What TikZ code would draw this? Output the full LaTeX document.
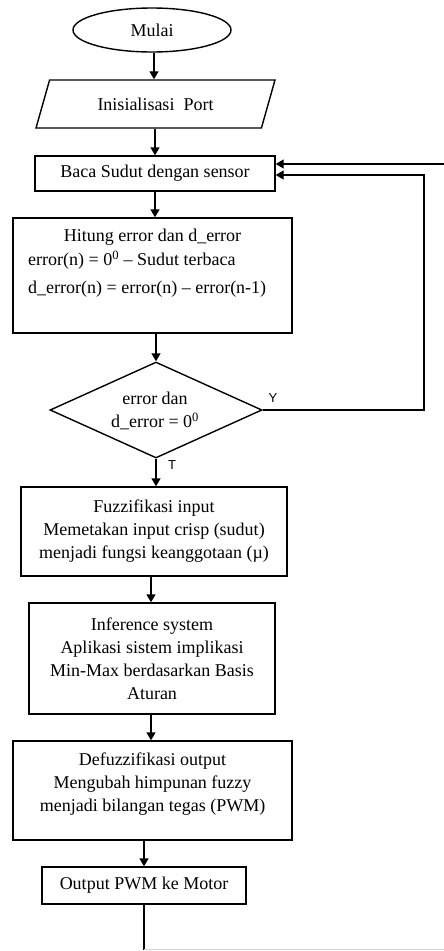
\documentclass[tikz,border=0pt]{standalone}
\usepackage{fontspec}
\setmainfont{Liberation Serif}
\newfontfamily\lsans{Liberation Sans}
\usetikzlibrary{shapes.geometric,arrows.meta}
\begin{document}
\begin{tikzpicture}[x=1pt,y=-1pt,
  every node/.style={font=\fontsize{18}{23}\selectfont},
  box/.style={draw, line width=1.4pt, rectangle, inner sep=0pt, align=center},
  flow/.style={line width=1.4pt, -{Triangle[length=8pt,width=9pt]}},
  plain/.style={line width=1.4pt},
  txt/.style={inner sep=0pt},
  lab/.style={font=\lsans\fontsize{13}{15}\selectfont, inner sep=0pt}]
\useasboundingbox (0,0) rectangle (444,951);
\node[ellipse, draw, line width=1.4pt, minimum width=158pt, minimum height=44pt, inner sep=0pt] (mulai) at (152,30) {Mulai};
\node[trapezium, trapezium left angle=43, trapezium right angle=137, trapezium stretches body, draw, line width=1.4pt, minimum width=239pt, minimum height=48pt, inner sep=0pt] (init) at (155.5,104) {Inisialisasi\ \ Port};
\node[box, minimum width=240pt, minimum height=35pt] (baca) at (155,173.5) {Baca Sudut dengan sensor};
\node[box, minimum width=279pt, minimum height=115pt] (hitung) at (152.5,275.5) {};
\node[txt] (h1) at (152.5,237) {Hitung error dan d\_error};
\node[txt, anchor=west] (h2) at (28,260) {error(n) = 0\textsuperscript{0} -- Sudut terbaca};
\node[txt, anchor=west] (h3) at (28,289) {d\_error(n) = error(n) -- error(n-1)};
\node[diamond, draw, line width=1.4pt, minimum width=212pt, minimum height=96pt, inner sep=0pt] (dia) at (156,410) {};
\node[txt, align=center] (dtext) at (155,411) {error dan\\d\_error = 0\textsuperscript{0}};
\node[lab] (ylab) at (273,398) {Y};
\node[lab] (tlab) at (172,465) {T};
\node[box, minimum width=266pt, minimum height=89pt] (fuzz) at (154,531.5) {Fuzzifikasi input\\Memetakan input crisp (sudut)\\menjadi fungsi keanggotaan (µ)};
\node[box, minimum width=246pt, minimum height=111pt] (inf) at (152,658.5) {Inference system\\Aplikasi sistem implikasi\\Min-Max berdasarkan Basis\\Aturan};
\node[box, minimum width=279pt, minimum height=99pt] (def) at (152.5,790.5) {};
\node[txt, align=center] (dtxt) at (152.5,784) {Defuzzifikasi output\\Mengubah himpunan fuzzy\\menjadi bilangan tegas (PWM)};
\node[box, minimum width=204pt, minimum height=37pt] (out) at (144,885.5) {Output PWM ke Motor};
\coordinate (yr) at (424,175);
\coordinate (tr) at (444,164);
\coordinate (br) at (444,949.5);
\draw[flow] ([xshift=2pt]mulai.south) -- ([xshift=2pt]mulai.south |- init.north);
\draw[flow] (baca.north |- init.south) -- (baca.north);
\draw[flow] (baca.south) -- (baca.south |- hitung.north);
\draw[flow] (dia.north |- hitung.south) -- (dia.north);
\draw[flow] (dia.south) -- (dia.south |- fuzz.north);
\draw[flow] ([xshift=-1pt]inf.north |- fuzz.south) -- ([xshift=-1pt]inf.north);
\draw[flow] ([xshift=-1pt]inf.south) -- ([xshift=-1pt]inf.south |- def.north);
\draw[flow] (out.north |- def.south) -- (out.north);
\draw[flow] (dia.east) -- (dia.east -| yr) -- (yr) -- (yr -| baca.east);
\draw[flow] (tr) -- (tr -| baca.east);
\draw[plain] (out.south) -- (out.south |- br);
\draw[line width=1pt, black!18] (out.south |- br) -- (br);
\end{tikzpicture}
\end{document}
